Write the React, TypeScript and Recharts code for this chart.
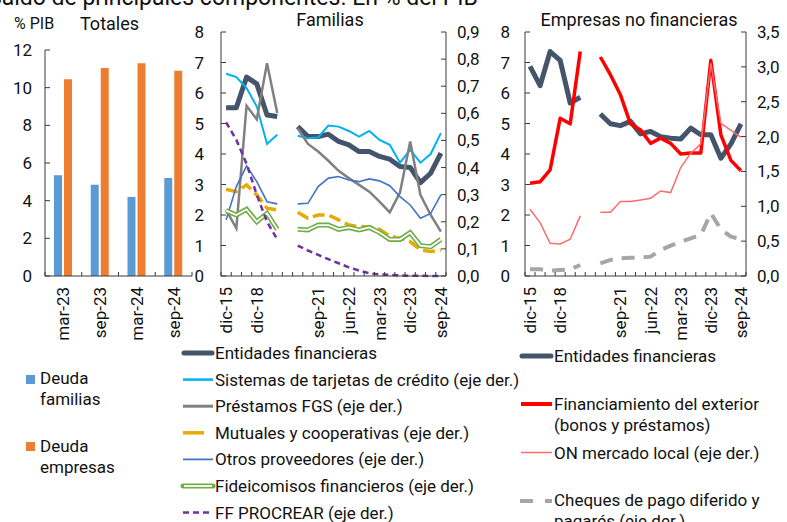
import React from 'react';
import { BarChart, Bar, LineChart, Line, XAxis, YAxis } from 'recharts';

// ---------- DATA ----------
const totalCats = ['mar-23', 'sep-23', 'mar-24', 'sep-24'];
const deudaFamilias = [5.35, 4.85, 4.2, 5.2];
const deudaEmpresas = [10.45, 11.05, 11.3, 10.9];

const periods = [
  'dic-15', 'dic-16', 'dic-17', 'dic-18', 'dic-19', 'dic-20', '',
  'mar-21', 'jun-21', 'sep-21', 'dic-21', 'mar-22', 'jun-22', 'sep-22', 'dic-22',
  'mar-23', 'jun-23', 'sep-23', 'dic-23', 'mar-24', 'jun-24', 'sep-24',
];
const labelIdx = [0, 3, 9, 12, 15, 18, 21];

// Familias (left axis: Entidades; right axis: rest)
const famEntidades = [5.52, 5.52, 6.52, 6.3, 5.28, 5.23, null, 4.9, 4.57, 4.57, 4.65, 4.41, 4.3, 4.08, 4.08, 3.92, 3.83, 3.59, 3.56, 3.06, 3.37, 4.03];
const famTarjetas = [0.746, 0.734, 0.693, 0.625, 0.487, 0.521, null, 0.517, 0.508, 0.511, 0.555, 0.551, 0.535, 0.514, 0.535, 0.502, 0.484, 0.418, 0.465, 0.418, 0.45, 0.527];
const famFGS = [0.244, 0.176, 0.628, 0.578, 0.785, 0.601, null, 0.545, 0.487, 0.459, 0.425, 0.388, 0.361, 0.336, 0.311, 0.274, 0.235, 0.308, 0.496, 0.299, 0.225, 0.164];
const famMutuales = [0.32, 0.311, 0.336, 0.299, 0.25, 0.244, null, 0.235, 0.213, 0.225, 0.225, 0.207, 0.188, 0.182, 0.182, 0.172, 0.148, 0.139, 0.127, 0.096, 0.09, 0.096];
const famOtros = [0.207, 0.33, 0.406, 0.348, 0.274, 0.266, null, 0.266, 0.268, 0.33, 0.361, 0.367, 0.354, 0.348, 0.358, 0.351, 0.333, 0.293, 0.262, 0.213, 0.231, 0.299];
const famFideicomisos = [0.241, 0.225, 0.246, 0.2, 0.231, 0.172, null, 0.172, 0.17, 0.188, 0.188, 0.172, 0.179, 0.17, 0.179, 0.16, 0.135, 0.135, 0.16, 0.112, 0.108, 0.135];
const famProcrear = [0.567, 0.502, 0.414, 0.299, 0.2, 0.135, null, 0.112, 0.094, 0.078, 0.062, 0.047, 0.032, 0.02, 0.01, 0.006, 0.004, 0.002, 0.001, 0.001, 0, 0];

// Empresas no financieras (left axis: Entidades, Exterior; right axis: ON, Cheques)
const empEntidades = [6.87, 6.24, 7.36, 7.07, 5.67, 5.86, null, 5.31, 4.99, 4.93, 5.07, 4.66, 4.74, 4.57, 4.52, 4.49, 4.85, 4.63, 4.63, 3.86, 4.33, 4.99];
const empExterior = [3.04, 3.09, 3.48, 5.17, 4.99, 7.36, null, 7.18, 6.6, 5.94, 4.99, 4.79, 4.35, 4.52, 4.35, 4.0, 4.03, 4.03, 7.07, 4.63, 3.79, 3.45];
const empON = [0.958, 0.766, 0.469, 0.46, 0.527, 0.862, null, 0.914, 0.914, 1.068, 1.068, 1.09, 1.116, 1.22, 1.197, 1.556, 1.762, 1.896, 3.05, 2.19, 2.09, 1.99];
const empCheques = [0.096, 0.096, 0.077, 0.086, 0.096, 0.158, null, 0.18, 0.23, 0.254, 0.263, 0.263, 0.278, 0.373, 0.436, 0.493, 0.541, 0.589, 0.9, 0.67, 0.565, 0.527];

const leftTicks8 = [0, 1, 2, 3, 4, 5, 6, 7, 8];
const famRightTicks = [0, 0.1, 0.2, 0.3, 0.4, 0.5, 0.6, 0.7, 0.8, 0.9];
const empRightTicks = [0, 0.5, 1, 1.5, 2, 2.5, 3, 3.5];
const totTicks = [0, 2, 4, 6, 8, 10, 12];

// ---------- BUILT TABLES ----------
const totData = totalCats.map((c, i) => ({ c, fam: deudaFamilias[i], emp: deudaEmpresas[i] }));
const famData = periods.map((p, i) => ({
  i, p,
  ent: famEntidades[i], tar: famTarjetas[i], fgs: famFGS[i], mut: famMutuales[i],
  otr: famOtros[i], fid: famFideicomisos[i], pro: famProcrear[i],
}));
const empData = periods.map((p, i) => ({
  i, p,
  ent: empEntidades[i], ext: empExterior[i], on: empON[i], che: empCheques[i],
}));
const halfTicks = Array.from({ length: periods.length + 1 }, (_, k) => k - 0.5);
const lineXTicks = [...halfTicks, ...labelIdx];

// ---------- STYLE ----------
const FONT = 'Roboto, "Noto Sans", sans-serif';
const AXIS = '#3a3a3a';
const TXT = '#111';
const FS = 17;
const C_ENT = '#44546A';
const C_TAR = '#00B0F0';
const C_FGS = '#808080';
const C_MUT = '#E8AA00';
const C_OTR = '#4472C4';
const C_FID = '#70AD47';
const C_PRO = '#7030A0';
const C_EXT = '#FF0000';
const C_ON = '#FF6B6B';
const C_CHE = '#A6A6A6';
const C_BLUE = '#5B9BD5';
const C_ORANGE = '#ED7D31';

const comma = (v: number) => v.toFixed(1).replace('.', ',');

const LineXTick = (props: any) => {
  const { x, y, payload } = props;
  const v = payload.value;
  if (!Number.isInteger(v)) {
    return <line x1={x} x2={x} y1={y} y2={y - 4} stroke={AXIS} strokeWidth={1} />;
  }
  return (
    <text
      transform={`translate(${x},${y + 11}) rotate(-90)`}
      textAnchor="end"
      dominantBaseline="central"
      fontSize={FS}
      fill={TXT}
      fontFamily={FONT}
    >
      {periods[v]}
    </text>
  );
};

const BarXTick = (props: any) => {
  const { x, y, payload, index, width } = props;
  const half = payload && typeof payload.offset === 'number' && payload.offset > 0
    ? payload.offset
    : (width ? width / totalCats.length / 2 : 18.4);
  return (
    <g>
      <line x1={x - half} x2={x - half} y1={y} y2={y - 4} stroke={AXIS} />
      {index === totalCats.length - 1 && <line x1={x + half} x2={x + half} y1={y} y2={y - 4} stroke={AXIS} />}
      <text
        transform={`translate(${x},${y + 11}) rotate(-90)`}
        textAnchor="end"
        dominantBaseline="central"
        fontSize={FS}
        fill={TXT}
        fontFamily={FONT}
      >
        {payload.value}
      </text>
    </g>
  );
};

const tickStyle = { fontSize: FS, fill: TXT, fontFamily: FONT };

const abs = (left: number, top: number): React.CSSProperties => ({ position: 'absolute', left, top });

export default function App() {
  const legendMid = [
    { t: 'Entidades financieras', el: <line x1={184} x2={212} stroke={C_ENT} strokeWidth={5} strokeLinecap="round" /> },
    { t: 'Sistemas de tarjetas de crédito (eje der.)', el: <line x1={183} x2={213} stroke={C_TAR} strokeWidth={2.5} /> },
    { t: 'Préstamos FGS (eje der.)', el: <line x1={183} x2={213} stroke={C_FGS} strokeWidth={3} /> },
    { t: 'Mutuales y cooperativas (eje der.)', el: <line x1={183} x2={204} stroke={C_MUT} strokeWidth={3.5} /> },
    { t: 'Otros proveedores (eje der.)', el: <line x1={183} x2={213} stroke={C_OTR} strokeWidth={1.8} /> },
    {
      t: 'Fideicomisos financieros (eje der.)',
      el: (
        <g>
          <line x1={183} x2={213} stroke={C_FID} strokeWidth={5} strokeLinecap="round" />
          <line x1={184} x2={212} stroke="#fff" strokeWidth={1.8} />
        </g>
      ),
    },
    { t: 'FF PROCREAR (eje der.)', el: <line x1={183} x2={213} stroke={C_PRO} strokeWidth={2.5} strokeDasharray="6 4" /> },
  ];

  return (
    <div style={{ position: 'absolute', left: 0, top: 0, width: 787, height: 522, background: '#fff', overflow: 'hidden', fontFamily: FONT }}>
      {/* Totales */}
      <div style={abs(0, 0)}>
        <BarChart width={200} height={340} data={totData} margin={{ top: 50, right: 8, bottom: 0, left: 0 }} barGap={2}>
          <XAxis
            dataKey="c"
            height={64}
            interval={0}
            tickLine={false}
            tickSize={0}
            tickMargin={0}
            tick={<BarXTick />}
            axisLine={{ stroke: AXIS }}
          />
          <YAxis
            domain={[0, 12]}
            ticks={totTicks}
            width={45}
            interval={0}
            tickSize={-5}
            tickMargin={18}
            tick={tickStyle}
            axisLine={{ stroke: AXIS }}
            tickLine={{ stroke: AXIS }}
          />
          <Bar dataKey="fam" fill={C_BLUE} barSize={8} isAnimationActive={false} />
          <Bar dataKey="emp" fill={C_ORANGE} barSize={8} isAnimationActive={false} />
        </BarChart>
      </div>

      {/* Familias */}
      <div style={abs(180, 0)}>
        <LineChart width={320} height={340} data={famData} margin={{ top: 32, right: 0, bottom: 0, left: 0 }}>
          <XAxis
            dataKey="i"
            type="number"
            domain={[-0.5, periods.length - 0.5]}
            ticks={lineXTicks}
            interval={0}
            height={64}
            tickLine={false}
            tickSize={0}
            tickMargin={0}
            tick={<LineXTick />}
            axisLine={{ stroke: AXIS }}
          />
          <YAxis
            yAxisId="l"
            domain={[0, 8]}
            ticks={leftTicks8}
            interval={0}
            width={41}
            tickSize={-5}
            tickMargin={22}
            tick={tickStyle}
            axisLine={{ stroke: AXIS }}
            tickLine={{ stroke: AXIS }}
          />
          <YAxis
            yAxisId="r"
            orientation="right"
            domain={[0, 0.9]}
            ticks={famRightTicks}
            interval={0}
            width={54}
            tickSize={-5}
            tickMargin={16}
            tickFormatter={comma}
            tick={tickStyle}
            axisLine={{ stroke: AXIS }}
            tickLine={{ stroke: AXIS }}
          />
          <Line yAxisId="l" dataKey="ent" stroke={C_ENT} strokeWidth={5} dot={false} activeDot={false} isAnimationActive={false} strokeLinejoin="round" />
          <Line yAxisId="r" dataKey="tar" stroke={C_TAR} strokeWidth={2} dot={false} activeDot={false} isAnimationActive={false} />
          <Line yAxisId="r" dataKey="fgs" stroke={C_FGS} strokeWidth={2.5} dot={false} activeDot={false} isAnimationActive={false} />
          <Line yAxisId="r" dataKey="mut" stroke={C_MUT} strokeWidth={3.5} strokeDasharray="12 5" dot={false} activeDot={false} isAnimationActive={false} />
          <Line yAxisId="r" dataKey="otr" stroke={C_OTR} strokeWidth={1.6} dot={false} activeDot={false} isAnimationActive={false} />
          <Line yAxisId="r" dataKey="fid" name="fid-outer" stroke={C_FID} strokeWidth={5} dot={false} activeDot={false} isAnimationActive={false} />
          <Line yAxisId="r" dataKey="fid" name="fid-inner" stroke="#fff" strokeWidth={1.8} dot={false} activeDot={false} isAnimationActive={false} />
          <Line yAxisId="r" dataKey="pro" stroke={C_PRO} strokeWidth={2.5} strokeDasharray="6 4" dot={false} activeDot={false} isAnimationActive={false} />
        </LineChart>
      </div>

      {/* Empresas no financieras */}
      <div style={abs(480, 0)}>
        <LineChart width={307} height={340} data={empData} margin={{ top: 32, right: 0, bottom: 0, left: 0 }}>
          <XAxis
            dataKey="i"
            type="number"
            domain={[-0.5, periods.length - 0.5]}
            ticks={lineXTicks}
            interval={0}
            height={64}
            tickLine={false}
            tickSize={0}
            tickMargin={0}
            tick={<LineXTick />}
            axisLine={{ stroke: AXIS }}
          />
          <YAxis
            yAxisId="l"
            domain={[0, 8]}
            ticks={leftTicks8}
            interval={0}
            width={45}
            tickSize={-5}
            tickMargin={20}
            tick={tickStyle}
            axisLine={{ stroke: AXIS }}
            tickLine={{ stroke: AXIS }}
          />
          <YAxis
            yAxisId="r"
            orientation="right"
            domain={[0, 3.5]}
            ticks={empRightTicks}
            interval={0}
            width={41}
            tickSize={-5}
            tickMargin={16}
            tickFormatter={comma}
            tick={tickStyle}
            axisLine={{ stroke: AXIS }}
            tickLine={{ stroke: AXIS }}
          />
          <Line yAxisId="l" dataKey="ent" stroke={C_ENT} strokeWidth={5} dot={false} activeDot={false} isAnimationActive={false} strokeLinejoin="round" />
          <Line yAxisId="l" dataKey="ext" stroke={C_EXT} strokeWidth={3.5} dot={false} activeDot={false} isAnimationActive={false} strokeLinejoin="round" />
          <Line yAxisId="r" dataKey="on" stroke={C_ON} strokeWidth={1.5} dot={false} activeDot={false} isAnimationActive={false} />
          <Line yAxisId="r" dataKey="che" stroke={C_CHE} strokeWidth={4} strokeDasharray="13 9" dot={false} activeDot={false} isAnimationActive={false} />
        </LineChart>
      </div>

      {/* Titles and legends */}
      <svg width={787} height={522} style={{ position: 'absolute', left: 0, top: 0, pointerEvents: 'none' }} fontFamily={FONT}>
        <text x={-12} y={5} fontSize={23} fill={TXT}>Saldo de principales componentes. En % del PIB</text>
        <text x={14} y={23} dominantBaseline="central" fontSize={16} fill={TXT}>% PIB</text>
        <text x={80} y={23} dominantBaseline="central" fontSize={18} fill={TXT}>Totales</text>
        <text x={330} y={19} textAnchor="middle" dominantBaseline="central" fontSize={18} fill={TXT}>Familias</text>
        <text x={639} y={19} textAnchor="middle" dominantBaseline="central" fontSize={18} fill={TXT}>Empresas no financieras</text>

        {/* Totales legend */}
        <rect x={26} y={375} width={9} height={9} fill={C_BLUE} />
        <text x={40} y={378} dominantBaseline="central" fontSize={FS} fill={TXT}>Deuda</text>
        <text x={40} y={399} dominantBaseline="central" fontSize={FS} fill={TXT}>familias</text>
        <rect x={26} y={442} width={9} height={9} fill={C_ORANGE} />
        <text x={40} y={446} dominantBaseline="central" fontSize={FS} fill={TXT}>Deuda</text>
        <text x={40} y={467} dominantBaseline="central" fontSize={FS} fill={TXT}>empresas</text>

        {/* Familias legend */}
        {legendMid.map((it, k) => {
          const yy = 353 + k * 26.6;
          return (
            <g key={it.t}>
              <g transform={`translate(0,${yy})`}>{it.el}</g>
              <text x={215} y={yy} dominantBaseline="central" fontSize={FS} fill={TXT}>{it.t}</text>
            </g>
          );
        })}

        {/* Empresas legend */}
        <line x1={522} x2={551} y1={356} y2={356} stroke={C_ENT} strokeWidth={5} strokeLinecap="round" />
        <text x={554} y={356} dominantBaseline="central" fontSize={FS} fill={TXT}>Entidades financieras</text>
        <line x1={521} x2={552} y1={404} y2={404} stroke={C_EXT} strokeWidth={4} />
        <text x={554} y={404} dominantBaseline="central" fontSize={FS} fill={TXT}>Financiamiento del exterior</text>
        <text x={554} y={425} dominantBaseline="central" fontSize={FS} fill={TXT}>(bonos y préstamos)</text>
        <line x1={521} x2={552} y1={452.5} y2={452.5} stroke={C_ON} strokeWidth={1.5} />
        <text x={554} y={452.5} dominantBaseline="central" fontSize={FS} fill={TXT}>ON mercado local (eje der.)</text>
        <line x1={520} x2={533} y1={501} y2={501} stroke={C_CHE} strokeWidth={4} />
        <line x1={545} x2={552} y1={501} y2={501} stroke={C_CHE} strokeWidth={4} />
        <text x={554} y={500} dominantBaseline="central" fontSize={FS} fill={TXT}>Cheques de pago diferido y</text>
        <text x={554} y={521} dominantBaseline="central" fontSize={FS} fill={TXT}>pagarés (eje der.)</text>
      </svg>
    </div>
  );
}
